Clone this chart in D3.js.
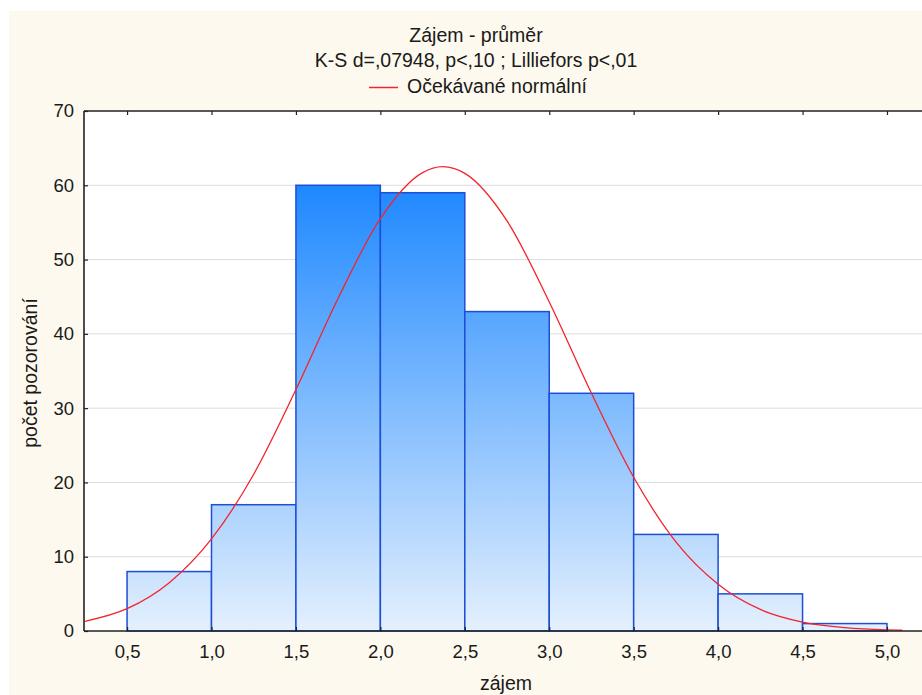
<!DOCTYPE html>
<html>
<head>
<meta charset="utf-8">
<script src="https://cdn.jsdelivr.net/npm/d3@7"></script>
<style>
  body { margin: 0; background: #fff; }
  text { font-family: "Liberation Sans", Arial, sans-serif; fill: #1a1a1a; }
</style>
</head>
<body>
<div id="chart"></div>
<script>
//------------------------------------------------------------------------ Data
// histogram bins (lower edge, upper edge) and counts
var binStart = [0.5, 1.0, 1.5, 2.0, 2.5, 3.0, 3.5, 4.0, 4.5];
var binEnd   = [1.0, 1.5, 2.0, 2.5, 3.0, 3.5, 4.0, 4.5, 5.0];
var counts   = [8, 17, 60, 59, 43, 32, 13, 5, 1];

// expected normal curve
var curveX = [0.25, 0.5, 0.75, 1.0, 1.25, 1.5, 1.75, 2.0, 2.25, 2.37, 2.5, 2.75, 3.0, 3.25, 3.5, 3.75, 4.0, 4.25, 4.5, 4.75, 5.0, 5.09];
var curveY = [1.3, 3.0, 6.5, 12.4, 21.1, 32.5, 44.8, 55.5, 61.7, 62.5, 61.6, 55.2, 44.3, 32.0, 20.7, 12.0, 6.3, 2.9, 1.2, 0.46, 0.15, 0.1];

var xTicks = [0.5, 1.0, 1.5, 2.0, 2.5, 3.0, 3.5, 4.0, 4.5, 5.0];
var yTicks = [0, 10, 20, 30, 40, 50, 60, 70];

var titleLines = ["Zájem - průměr", "K-S d=,07948, p<,10 ; Lilliefors p<,01"];
var legendLabel = "Očekávané normální";
var xLabel = "zájem";
var yLabel = "počet pozorování";

//------------------------------------------------------------------------ Layout
var W = 922, H = 695;
var margin = {top: 111, right: 0, bottom: 64, left: 84},
    width = W - margin.left - margin.right,
    height = H - margin.top - margin.bottom;

var svg = d3.select("#chart").append("svg")
  .attr("width", W)
  .attr("height", H);

// cream frame
svg.append("rect")
  .attr("x", 9).attr("y", 11)
  .attr("width", W - 9).attr("height", H - 11)
  .attr("fill", "#fdf9ee");

var x = d3.scaleLinear().domain([0.245, 5.0 + (922 - 887) / 168.8]).range([0, width]);
var y = d3.scaleLinear().domain([0, 70]).range([height, 0]);

var g = svg.append("g").attr("transform", "translate(" + margin.left + "," + margin.top + ")");

// plot area
g.append("rect").attr("width", width).attr("height", height).attr("fill", "#fff");

// gradient for bars
var defs = svg.append("defs");
var grad = defs.append("linearGradient")
  .attr("id", "barGrad")
  .attr("gradientUnits", "userSpaceOnUse")
  .attr("x1", 0).attr("x2", 0)
  .attr("y1", y(60)).attr("y2", y(0));
grad.append("stop").attr("offset", "0%").attr("stop-color", "#1e88ff");
grad.append("stop").attr("offset", "100%").attr("stop-color", "#e4f0fd");

defs.append("clipPath").attr("id", "plotClip")
  .append("rect").attr("width", width).attr("height", height);

// grid
g.selectAll(".grid").data(yTicks.filter(function(d){ return d > 0 && d < 70; }))
  .enter().append("line")
  .attr("x1", 0).attr("x2", width)
  .attr("y1", function(d){ return y(d); })
  .attr("y2", function(d){ return y(d); })
  .attr("stroke", "#dcdcdc")
  .attr("stroke-width", 1);

// bars
var bins = counts.map(function(c, i){ return {x0: binStart[i], x1: binEnd[i], n: c}; });
g.selectAll(".bar").data(bins).enter().append("rect")
  .attr("x", function(d){ return x(d.x0); })
  .attr("y", function(d){ return y(d.n); })
  .attr("width", function(d){ return x(d.x1) - x(d.x0); })
  .attr("height", function(d){ return y(0) - y(d.n); })
  .attr("fill", "url(#barGrad)")
  .attr("stroke", "#1c4fd6")
  .attr("stroke-width", 1.5);

// normal curve
var pts = curveX.map(function(v, i){ return [v, curveY[i]]; });
var line = d3.line()
  .x(function(d){ return x(d[0]); })
  .y(function(d){ return y(d[1]); })
  .curve(d3.curveMonotoneX);
g.append("path")
  .datum(pts)
  .attr("clip-path", "url(#plotClip)")
  .attr("d", line)
  .attr("fill", "none")
  .attr("stroke", "#f4242c")
  .attr("stroke-width", 1.3);

// axes
var yAxis = d3.axisLeft(y).tickValues(yTicks).tickSize(-4).tickPadding(10).tickFormat(d3.format("d"));
var gy = g.append("g").call(yAxis);
var xAxis = d3.axisBottom(x).tickValues(xTicks).tickSize(-4).tickPadding(14)
  .tickFormat(function(d){ return d.toFixed(1).replace(".", ","); });
var gx = g.append("g").attr("transform", "translate(0," + height + ")").call(xAxis);
var xTop = d3.axisTop(x).tickValues(xTicks).tickSize(-4).tickFormat("");
var gt = g.append("g").call(xTop);

[gy, gx, gt].forEach(function(a){
  a.select(".domain").attr("stroke", "#222").attr("stroke-width", 1.6);
  a.selectAll(".tick line").attr("stroke", "#222").attr("stroke-width", 1.2);
  a.selectAll(".tick text").attr("font-size", "18.5px").attr("fill", "#1a1a1a")
    .style("font-family", "'Liberation Sans', Arial, sans-serif");
});
gy.select(".domain").attr("d", "M0," + height + "V0");
gt.select(".domain").attr("d", "M0,0H" + width);
gx.select(".domain").attr("d", "M0,0H" + width);

// titles
var titleY = [42, 67];
titleLines.forEach(function(t, i){
  svg.append("text")
    .attr("x", 476).attr("y", titleY[i])
    .attr("text-anchor", "middle")
    .attr("font-size", "19.5px")
    .text(t);
});

// legend
svg.append("line")
  .attr("x1", 369).attr("x2", 398)
  .attr("y1", 87.5).attr("y2", 87.5)
  .attr("stroke", "#f4242c").attr("stroke-width", 1.5);
svg.append("text")
  .attr("x", 407).attr("y", 93)
  .attr("font-size", "19.5px")
  .text(legendLabel);

// axis labels
svg.append("text")
  .attr("x", 506).attr("y", 690)
  .attr("text-anchor", "middle")
  .attr("font-size", "19.5px")
  .text(xLabel);

svg.append("text")
  .attr("transform", "translate(37,373) rotate(-90)")
  .attr("text-anchor", "middle")
  .attr("font-size", "19.5px")
  .text(yLabel);
</script>
</body>
</html>
